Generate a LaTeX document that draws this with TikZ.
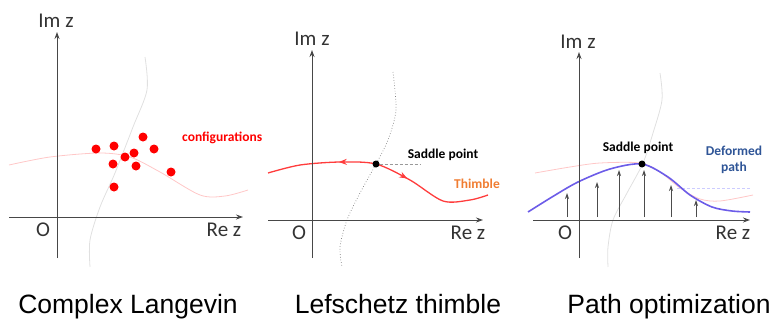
\documentclass[tikz,border=0pt]{standalone}
\usepackage{fontspec}
\setmainfont{Carlito}
\newfontfamily\capfont{Liberation Sans}
\usetikzlibrary{arrows.meta,decorations.markings}

\definecolor{dotred}{RGB}{255,0,0}
\definecolor{thimred}{RGB}{255,60,60}
\definecolor{thimorange}{RGB}{240,125,50}
\definecolor{defblue}{RGB}{108,92,232}
\definecolor{labblue}{RGB}{47,85,151}

\tikzset{
  axis/.style={draw=black!72, line width=0.9pt, -{Stealth[length=7pt,width=5pt]}},
  axlabel/.style={font=\fontsize{21}{21}\selectfont, text=black!80, inner sep=0pt},
  tag/.style={font=\fontsize{13.5}{16}\selectfont\bfseries, inner sep=0pt},
  caption/.style={font=\capfont\fontsize{26.5}{26.5}\selectfont, anchor=base, inner sep=0pt},
  config/.style={circle, fill=dotred, inner sep=0pt, minimum size=9pt},
  saddle/.style={circle, fill=black, inner sep=0pt, minimum size=7pt},
  faintred/.style={draw=red!22, line width=0.8pt},
  faintgray/.style={draw=black!12, line width=0.8pt},
  lift/.style={draw=black!70, line width=0.8pt, -{Stealth[length=6pt,width=4pt]}}
}

\begin{document}
\begin{tikzpicture}[x=1pt, y=-1pt]
	\useasboundingbox (0,0) rectangle (784,324);

	% complex Langevin
	\draw[faintgray] plot[smooth] coordinates {(145,57) (147,90) (133,127) (115,173) (100,207) (90,240) (90,267)};
	\draw[faintred] plot[smooth] coordinates {(9,165) (50,157) (100,153) (130,157) (160,172) (200,195) (225,196) (248,190)};
	\draw[axis] (57,258) -- (57,32);
	\draw[axis] (9,217) -- (243,217);
	\node[axlabel] (im1) at (56,21) {Im z};
	\node[axlabel] (o1) at (43,230) {O};
	\node[axlabel] (re1) at (224,230) {Re z};
	\foreach \x/\y [count=\i] in {96/149, 114/146, 143/137, 154/149, 134/153, 125/157, 113/164, 136/166, 171/172, 114/187}
		\node[config] (c\i) at (\x,\y) {};
	\node[tag, text=dotred, anchor=west] (conf) at (182,138) {configurations};

	% Lefschetz thimble
	\draw[black!50, line width=0.7pt, dotted] plot[smooth] coordinates {(393,72) (396,110) (388,140) (376,164) (360,193) (347,220) (340,247) (342,267)};
	\draw[thimred, line width=1.3pt, decoration={markings,
		mark=at position 0.31 with {\arrowreversed{Stealth[length=8pt,width=6pt]}},
		mark=at position 0.62 with {\arrow{Stealth[length=8pt,width=6pt]}}}, postaction={decorate}]
		plot[smooth] coordinates {(268,173) (300,165) (340,162) (376,164) (410,180) (443,201) (470,200) (488,195)};
	\draw[axis] (312,258) -- (312,50);
	\draw[axis] (268,220) -- (483,220);
	\node[axlabel] (im2) at (312,39) {Im z};
	\node[axlabel] (o2) at (299,233) {O};
	\node[axlabel] (re2) at (468,233) {Re z};
	\node[saddle] (s2) at (376,164) {};
	\coordinate (s2end) at (421,164);
	\draw[black!40, line width=0.5pt, densely dashed] (s2) -- (s2end);
	\node[tag] (sp2) at (443,155) {Saddle point};
	\node[tag, text=thimorange] (thim) at (477,184) {Thimble};

	% path optimization
	\draw[faintgray] plot[smooth] coordinates {(660,73) (662,100) (653,133) (643,163) (627,193) (613,220) (608,247) (608,267)};
	\draw[faintred] plot[smooth] coordinates {(535,173) (570,167) (600,163) (640,163) (660,172) (680,188) (700,199) (720,201) (753,195)};
	\draw[blue!20, line width=0.6pt, densely dashed] (677,188) -- (750,188);
	\foreach \x/\y in {567/193, 597/182, 619/170, 644/170, 671/185, 696/200}
		\draw[lift] (\x,217) -- (\x,\y);
	\draw[defblue, line width=1.6pt] plot[smooth] coordinates {(528,212) (552,197) (578,182) (610,169) (642,164) (668,177) (690,195) (712,207) (732,211) (750,212)};
	\draw[axis] (579,258) -- (579,52);
	\draw[axis] (533,220) -- (750,220);
	\node[axlabel] (im3) at (578,42) {Im z};
	\node[axlabel] (o3) at (565,233) {O};
	\node[axlabel] (re3) at (733,233) {Re z};
	\node[saddle] (s3) at (642,164) {};
	\node[tag] (sp3) at (638,148) {Saddle point};
	\node[tag, text=labblue, align=center] (defp) at (734,160) {Deformed\\path};

	% captions
	\node[caption] (cap1) at (128,313) {Complex Langevin};
	\node[caption] (cap2) at (398,313) {Lefschetz thimble};
	\node[caption] (cap3) at (669,313) {Path optimization};
\end{tikzpicture}
\end{document}
